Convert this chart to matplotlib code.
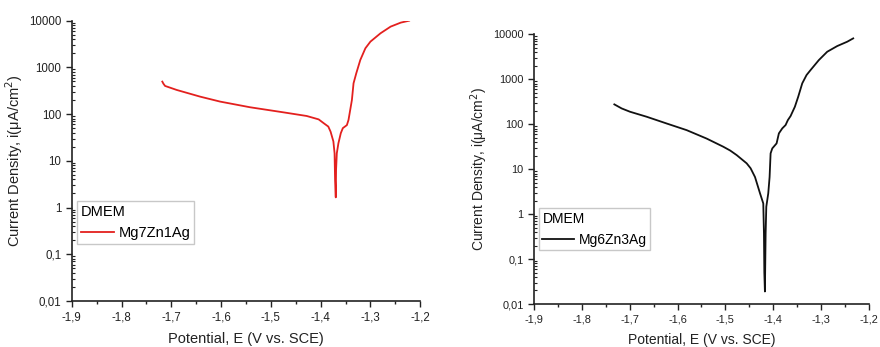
import matplotlib
matplotlib.use("Agg")
import matplotlib.pyplot as plt
import numpy as np
from matplotlib.ticker import FixedLocator, FixedFormatter, LogLocator, NullFormatter

plt.rcParams['font.family'] = ['Liberation Sans', 'DejaVu Sans']

# ---- data ----
e_left = [-1.718, -1.716, -1.7125, -1.700, -1.689, -1.642, -1.602, -1.542, -1.475, -1.428, -1.404,
          -1.394, -1.3846, -1.380, -1.3744, -1.372, -1.371, -1.3696, -1.369, -1.3675,
          -1.3643, -1.3595, -1.3554, -1.3473, -1.344, -1.3372, -1.3339, -1.3284,
          -1.3203, -1.3101, -1.300, -1.2797, -1.2594, -1.239, -1.2223]
i_left = [495, 450, 400, 360, 328, 236, 185, 140, 109, 91, 77,
          64, 54, 42, 26, 14.5, 3.9, 1.65, 6.4, 14.5,
          23.7, 39, 50, 58, 75, 200, 456, 747,
          1440, 2560, 3550, 5360, 7440, 9060, 9950]

e_right = [-1.7321, -1.7168, -1.6994, -1.6646, -1.6228, -1.581, -1.5392, -1.5044,
           -1.4900, -1.4765, -1.4556, -1.4474, -1.4382, -1.4277, -1.4209, -1.4195, -1.4187,
           -1.4175, -1.4160, -1.4146, -1.4105, -1.4077, -1.4056, -1.4021, -1.3931,
           -1.3883, -1.3812, -1.3743, -1.3695, -1.3639, -1.3549, -1.3479, -1.3395,
           -1.3305, -1.3221, -1.3048, -1.2873, -1.2664, -1.2455, -1.233]
i_right = [277, 225, 190, 147, 104, 74, 48, 31.6,
           26, 20.6, 13.5, 10.5, 6.7, 2.9, 1.73, 0.37, 0.05,
           0.019, 0.37, 1.46, 2.9, 6.7, 22.5, 29, 37.5,
           62.6, 81, 96, 124, 152, 245, 410, 813,
           1245, 1608, 2680, 4110, 5500, 6870, 8150]

x_ticks = [-1.9, -1.8, -1.7, -1.6, -1.5, -1.4, -1.3, -1.2]
x_ticklabels = ["-1,9", "-1,8", "-1,7", "-1,6", "-1,5", "-1,4", "-1,3", "-1,2"]
y_ticks = [0.01, 0.1, 1, 10, 100, 1000, 10000]
y_ticklabels = ["0,01", "0,1", "1", "10", "100", "1000", "10000"]

panels = [
    dict(e=e_left, i=i_left, color="#e3201e", label="Mg7Zn1Ag",
         rect=[0.0815, 0.1326, 0.396, 0.808], tfs=8.3, lfs=10.5, ylx=-0.134),
    dict(e=e_right, i=i_right, color="#111111", label="Mg6Zn3Ag",
         rect=[0.6068, 0.1239, 0.3807, 0.777], tfs=7.9, lfs=10.0, ylx=-0.131),
]

fig = plt.figure(figsize=(8.8, 3.47), dpi=100)
for p in panels:
    ax = fig.add_axes(p["rect"])
    ax.plot(p["e"], p["i"], color=p["color"], lw=1.3, label=p["label"])
    ax.set_yscale("log")
    ax.set_xlim(-1.9, -1.2)
    ax.set_ylim(0.01, 10000)
    ax.xaxis.set_major_locator(FixedLocator(x_ticks))
    ax.xaxis.set_major_formatter(FixedFormatter(x_ticklabels))
    ax.xaxis.set_minor_locator(FixedLocator(list(np.arange(-1.85, -1.2, 0.1))))
    ax.yaxis.set_major_locator(FixedLocator(y_ticks))
    ax.yaxis.set_major_formatter(FixedFormatter(y_ticklabels))
    ax.yaxis.set_minor_locator(LogLocator(base=10, subs=np.arange(2, 10)))
    ax.yaxis.set_minor_formatter(NullFormatter())
    for s in ("top", "right"):
        ax.spines[s].set_visible(False)
    for s in ("left", "bottom"):
        ax.spines[s].set_linewidth(1.2)
        ax.spines[s].set_color("#222222")
    ax.tick_params(axis="x", which="major", direction="out", length=4, width=1, labelsize=p["tfs"], colors="#222222")
    ax.tick_params(axis="x", which="minor", direction="out", length=2.5, width=1, colors="#222222")
    ax.tick_params(axis="y", which="major", direction="out", length=4, width=1, labelsize=p["tfs"], colors="#222222")
    ax.tick_params(axis="y", which="minor", direction="in", length=2.5, width=0.8, colors="#222222")
    ax.set_xlabel("Potential, E (V vs. SCE)", fontsize=p["lfs"], color="#222222", labelpad=6)
    ax.set_ylabel("Current Density, i(\u03bcA/cm$^2$)", fontsize=p["lfs"], color="#222222")
    ax.yaxis.set_label_coords(p["ylx"], 0.5)
    ax.patch.set_alpha(0)
    leg = ax.legend(loc="upper left", bbox_to_anchor=(0.015, 0.355), title="DMEM",
                    fontsize=p["lfs"], title_fontsize=p["lfs"], frameon=True, fancybox=False,
                    handlelength=2.3, handletextpad=0.3, borderpad=0.25, borderaxespad=0)
    leg._legend_box.align = "left"
    leg.get_frame().set_edgecolor("#bbbbbb")
    leg.get_frame().set_linewidth(1)

fig.savefig("out.png", dpi=100)
